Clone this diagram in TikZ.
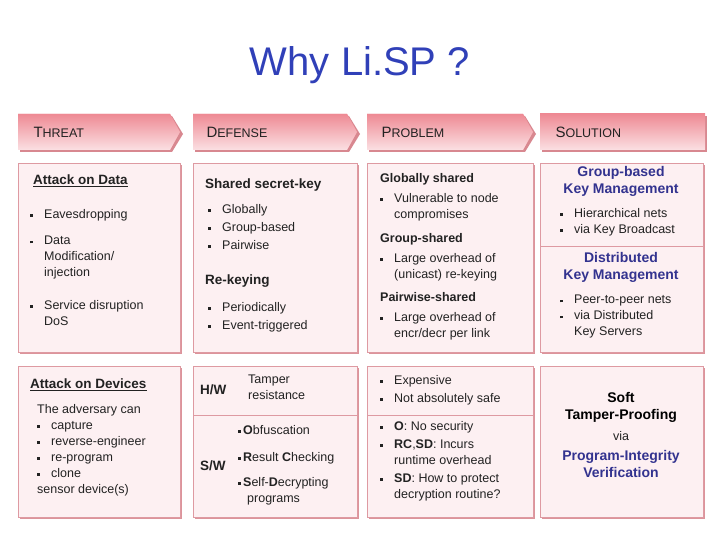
\documentclass[tikz,border=0pt]{standalone}
\usepackage{fontspec}
\setmainfont{Liberation Sans}
\usetikzlibrary{shadows}
\definecolor{hdr}{HTML}{EE8A94}
\definecolor{hdrlight}{HTML}{FBE0E3}
\definecolor{bodyfill}{HTML}{FDF0F2}
\definecolor{bord}{HTML}{DE9AA2}
\definecolor{shad}{HTML}{D88890}
\definecolor{navy}{HTML}{33338F}
\definecolor{titleblue}{HTML}{3040B8}
\definecolor{txt}{HTML}{222222}
\tikzset{
 hdrbox/.style={fill=hdr, top color=hdr, bottom color=hdrlight, draw=none},
 bodybox/.style={fill=bodyfill, draw=bord, line width=0.8pt, drop shadow={shadow xshift=2pt,shadow yshift=-2pt,fill=shad,opacity=0.9}},
 hdrtext/.style={anchor=west, font=\fontsize{15}{17}\selectfont, text=txt},
 t/.style={anchor=north west, align=left, font=\fontsize{12.5}{16}\selectfont, text=txt, inner sep=0pt},
 tb/.style={t, font=\fontsize{13.5}{17}\bfseries\selectfont},
 nb/.style={anchor=north, align=center, font=\fontsize{14}{17}\bfseries\selectfont, text=navy, inner sep=0pt},
}
\newcommand{\bul}{\makebox[14pt][l]{\raisebox{1.5pt}{\rule{2.5pt}{2.5pt}}}}
\newcommand{\ul}[1]{\underline{#1}}
\begin{document}
\begin{tikzpicture}[x=1pt,y=-1pt]
\useasboundingbox (0,0) rectangle (720,540);
\node (title) [font=\fontsize{40}{44}\selectfont, text=titleblue] at (360,65) {Why Li.SP ?};
% headers
\foreach \a/\b/\n in {18/180/h1,193/357/h2,367/533/h3}{
 \fill[shad] (\a+2,116) -- (\b-8,116) -- (\b+3,134) -- (\b-8,152) -- (\a+2,152) -- cycle;
 \fill[hdrbox] (\a,114) -- (\b-10,114) -- (\b,132) -- (\b-10,150) -- (\a,150) -- cycle;
}
\fill[shad] (542,116) rectangle (707,152);
\fill[hdrbox] (540,114) rectangle (705,150);
\node[hdrtext] (ht) at (30,132) {T\fontsize{12.5}{14}\selectfont HREAT};
\node[hdrtext] (hd) at (203,132) {D\fontsize{12.5}{14}\selectfont EFENSE};
\node[hdrtext] (hp) at (378,132) {P\fontsize{12.5}{14}\selectfont ROBLEM};
\node[hdrtext] (hs) at (552,132) {S\fontsize{12.5}{14}\selectfont OLUTION};
% bodies
\foreach \a/\b in {18/180,193/357,367/533,540/703}{
 \draw[bodybox] (\a,163) rectangle (\b,352);
 \draw[bodybox] (\a,366) rectangle (\b,517);
}
\draw[bord, line width=0.8pt] (540,246) -- (703,246);
\draw[bord, line width=0.8pt] (193,415) -- (357,415);
\draw[bord, line width=0.8pt] (367,415) -- (533,415);
% col 1
\node[tb] (a1) at (33,175) {\ul{Attack on Data}};
\node[t] (a2) at (30,209) {\bul Eavesdropping};
\node[t] (a3) at (30,236) {\bul Data\\\hspace*{14pt}Modification/\\\hspace*{14pt}injection};
\node[t] (a4) at (30,300) {\bul Service disruption\\\hspace*{14pt}DoS};
\node[tb] (a5) at (30,379) {\ul{Attack on Devices}};
\node[t] (a6) at (37,404) {The adversary can\\\bul capture\\\bul reverse-engineer\\\bul re-program\\\bul clone\\sensor device(s)};
% col 2
\node[tb] (d1) at (205,179) {Shared secret-key};
\node[t] (d2) at (208,204) {\bul Globally\\[2pt]\bul Group-based\\[2pt]\bul Pairwise};
\node[tb] (d3) at (205,275) {Re-keying};
\node[t] (d4) at (208,302) {\bul Periodically\\[2pt]\bul Event-triggered};
\node[tb, anchor=west] (d5) at (200,390) {H/W};
\node[t] (d6) at (248,375) {Tamper\\resistance};
\node[tb, anchor=west] (d7) at (200,466) {S/W};
\node[t] (d8) at (238,425) {\bul\hspace{-9pt}\textbf{O}bfuscation};
\node[t] (d9) at (238,452) {\bul\hspace{-9pt}\textbf{R}esult \textbf{C}hecking};
\node[t] (d10) at (238,477) {\bul\hspace{-9pt}\textbf{S}elf-\textbf{D}ecrypting\\\hspace*{9pt}programs};
% col 3
\node[tb, font=\fontsize{12.5}{16}\bfseries\selectfont] (p1) at (380,173) {Globally shared};
\node[t] (p2) at (380,193) {\bul Vulnerable to node\\\hspace*{14pt}compromises};
\node[tb, font=\fontsize{12.5}{16}\bfseries\selectfont] (p3) at (380,233) {Group-shared};
\node[t] (p4) at (380,253) {\bul Large overhead of\\\hspace*{14pt}(unicast) re-keying};
\node[tb, font=\fontsize{12.5}{16}\bfseries\selectfont] (p5) at (380,292) {Pairwise-shared};
\node[t] (p6) at (380,312) {\bul Large overhead of\\\hspace*{14pt}encr/decr per link};
\node[t] (p7) at (380,375) {\bul Expensive\\[2pt]\bul Not absolutely safe};
\node[t] (p8) at (380,421) {\bul\textbf{O}: No security\\[2pt]\bul\textbf{RC},\textbf{SD}: Incurs\\\hspace*{14pt}runtime overhead\\[2pt]\bul\textbf{SD}: How to protect\\\hspace*{14pt}decryption routine?};
% col 4
\node[nb] (s1) at (621,166) {Group-based\\Key Management};
\node[t] (s2) at (560,208) {\bul Hierarchical nets\\\bul via Key Broadcast};
\node[nb] (s3) at (621,252) {Distributed\\Key Management};
\node[t] (s4) at (560,295) {\bul Peer-to-peer nets\\\bul via Distributed\\\hspace*{14pt}Key Servers};
\node[nb, text=black] (s5) at (621,392) {Soft\\Tamper-Proofing};
\node[t, anchor=north] (s6) at (621,431) {via};
\node[nb] (s7) at (621,450) {Program-Integrity\\Verification};
\end{tikzpicture}
\end{document}
